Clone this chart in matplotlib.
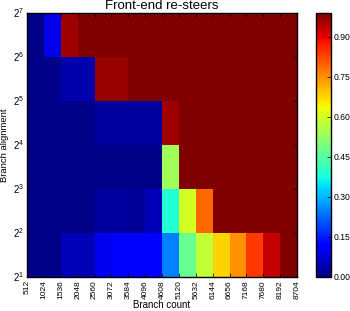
import numpy as np
import matplotlib
matplotlib.use("Agg")
import matplotlib.pyplot as plt
from matplotlib.ticker import FormatStrFormatter, FixedLocator, NullLocator

plt.style.use("classic")
plt.rcParams["font.family"] = ["Liberation Sans", "DejaVu Sans"]
plt.rcParams["mathtext.fontset"] = "custom"
plt.rcParams["mathtext.rm"] = "Liberation Sans"
plt.rcParams["mathtext.it"] = "Liberation Sans:italic"

# --- data ---
branch_count = np.arange(512, 8704 + 1, 512)        # column edges
alignment = np.array([2, 4, 8, 16, 32, 64, 128])     # row edges (2^1 .. 2^7)

# rows: alignment 2, 4, 8, 16, 32, 64 ; columns: 512 .. 8192
resteers = np.array([
    [0.01, 0.01, 0.05, 0.05, 0.10, 0.12, 0.12, 0.12, 0.25, 0.47, 0.58, 0.68, 0.75, 0.84, 0.93, 0.99],
    [0.01, 0.01, 0.01, 0.01, 0.03, 0.03, 0.02, 0.05, 0.39, 0.60, 0.79, 0.99, 0.99, 0.99, 0.99, 0.99],
    [0.01, 0.01, 0.01, 0.01, 0.01, 0.01, 0.01, 0.01, 0.54, 0.99, 0.99, 0.99, 0.99, 0.99, 0.99, 0.99],
    [0.01, 0.01, 0.01, 0.01, 0.03, 0.03, 0.03, 0.03, 0.96, 0.99, 0.99, 0.99, 0.99, 0.99, 0.99, 0.99],
    [0.01, 0.01, 0.04, 0.04, 0.97, 0.97, 0.99, 0.99, 0.99, 0.99, 0.99, 0.99, 0.99, 0.99, 0.99, 0.99],
    [0.01, 0.09, 0.96, 0.99, 0.99, 0.99, 0.99, 0.99, 0.99, 0.99, 0.99, 0.99, 0.99, 0.99, 0.99, 0.99],
])
cbar_ticks = [0.00, 0.15, 0.30, 0.45, 0.60, 0.75, 0.90]

fig = plt.figure(figsize=(3.5, 3.11), dpi=100, facecolor="white")
ax = fig.add_axes([0.077, 0.109, 0.772, 0.849])
cax = fig.add_axes([0.903, 0.109, 0.043, 0.849])

mesh = ax.pcolormesh(branch_count, alignment, resteers, cmap="jet",
                     vmin=0.0, vmax=resteers.max())
ax.set_yscale("log", base=2)
ax.set_xlim(branch_count[0], branch_count[-1])
ax.set_ylim(alignment[0], alignment[-1])
ax.set_xticks(branch_count)
ax.set_xticklabels([str(b) for b in branch_count], rotation=90, fontsize=6)
ax.set_yticks(alignment)
ax.set_yticklabels([r"$2^{%d}$" % int(np.log2(a)) for a in alignment], fontsize=7)
ax.yaxis.set_minor_locator(NullLocator())
ax.tick_params(pad=2, length=3)
ax.set_xlabel("Branch count", fontsize=7, labelpad=1)
ax.set_ylabel("Branch alignment", fontsize=6.8, labelpad=3)
ax.set_title("Front-end re-steers", fontsize=9.5, pad=3)

cb = fig.colorbar(mesh, cax=cax)
cb.ax.yaxis.set_major_locator(FixedLocator(cbar_ticks))
cb.ax.yaxis.set_major_formatter(FormatStrFormatter("%.2f"))
cb.ax.yaxis.set_minor_locator(NullLocator())
cb.ax.tick_params(labelsize=6.2, pad=1.5, length=3)

fig.savefig("out.png", dpi=100, facecolor="white")
